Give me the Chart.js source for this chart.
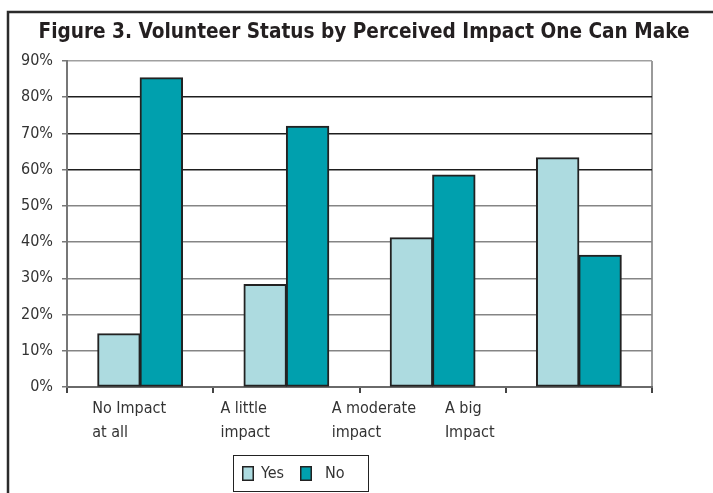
<!DOCTYPE html>
<html>
<head>
<meta charset="utf-8">
<script src="https://cdn.jsdelivr.net/npm/chart.js@4/dist/chart.umd.min.js"></script>
<style>
  html, body { margin: 0; padding: 0; background: #fff; }
  #wrap { position: relative; width: 713px; height: 493px; }
  canvas { display: block; }
</style>
</head>
<body>
<div id="wrap"><canvas id="c" width="713" height="493"></canvas></div>
<script>
// Share of respondents who volunteer (Yes) or not (No), by how much impact they think one person can make
const chartTitle = 'Figure 3. Volunteer Status by Perceived Impact One Can Make';
const categories = [
  ['No Impact', 'at all'],
  ['A little', 'impact'],
  ['A moderate', 'impact'],
  ['A big', 'Impact']
];
const seriesNames = ['Yes', 'No'];
const yesValues = [14.7, 28.3, 41.2, 63.3];
const noValues = [85.4, 72.0, 58.5, 36.4];
const yTicks = [0, 10, 20, 30, 40, 50, 60, 70, 80, 90];

const FONT = '"DejaVu Sans Condensed", "DejaVu Sans", sans-serif';
const TEXT = '#333333';

// Horizontal offset of each category label's left edge from its category centre
const labelShift = [-48, -66, -101, -134];

const framePlugin = {
  id: 'frame',
  beforeDraw(chart) {
    const ctx = chart.ctx;
    ctx.save();
    ctx.fillStyle = '#fff';
    ctx.fillRect(0, 0, chart.width, chart.height);
    ctx.strokeStyle = '#2b2b2b';
    ctx.lineWidth = 2.5;
    ctx.beginPath();
    ctx.moveTo(8, chart.height);
    ctx.lineTo(8, 12);
    ctx.lineTo(chart.width, 12);
    ctx.stroke();
    // title
    ctx.fillStyle = '#231f20';
    ctx.font = 'bold 20.6px ' + FONT;
    ctx.textAlign = 'center';
    ctx.textBaseline = 'middle';
    ctx.fillText(chartTitle, 364, 33);
    ctx.restore();
  }
};

const labelsPlugin = {
  id: 'catLabels',
  afterDraw(chart) {
    const ctx = chart.ctx;
    const x = chart.scales.x;
    ctx.save();
    ctx.fillStyle = TEXT;
    ctx.font = '16px ' + FONT;
    ctx.textAlign = 'left';
    ctx.textBaseline = 'middle';
    categories.forEach((lines, i) => {
      const px = x.getPixelForValue(i) + labelShift[i];
      lines.forEach((t, j) => ctx.fillText(t, px, x.bottom - 95 + 11 + j * 24));
    });
    ctx.restore();
  }
};

const legendPlugin = {
  id: 'boxLegend',
  afterDraw(chart) {
    const ctx = chart.ctx;
    ctx.save();
    ctx.strokeStyle = '#222';
    ctx.lineWidth = 1;
    ctx.strokeRect(233.5, 455.5, 135, 36);
    ctx.font = '16px ' + FONT;
    ctx.textBaseline = 'middle';
    ctx.textAlign = 'left';
    const items = [{ x: 242, tx: 261 }, { x: 300, tx: 325 }];
    chart.data.datasets.forEach((ds, i) => {
      const it = items[i];
      ctx.fillStyle = ds.backgroundColor;
      ctx.fillRect(it.x, 466, 12, 15);
      ctx.strokeStyle = '#222';
      ctx.lineWidth = 1.5;
      ctx.strokeRect(it.x + 0.75, 466.75, 10.5, 13.5);
      ctx.fillStyle = TEXT;
      ctx.fillText(ds.label, it.tx, 474);
    });
    ctx.restore();
  }
};

new Chart(document.getElementById('c'), {
  type: 'bar',
  data: {
    labels: categories,
    datasets: [
      { label: seriesNames[0], data: yesValues, backgroundColor: '#addbe0', borderColor: '#222', borderWidth: 2, borderSkipped: false, inflateAmount: 0.5 },
      { label: seriesNames[1], data: noValues, backgroundColor: '#00a0ae', borderColor: '#222', borderWidth: 2, borderSkipped: false, inflateAmount: 0.5 }
    ]
  },
  options: {
    responsive: false,
    animation: false,
    events: [],
    layout: { padding: { left: 0, right: 61, top: 61, bottom: 0 } },
    datasets: { bar: { categoryPercentage: 0.58, barPercentage: 1.0 } },
    plugins: {
      legend: { display: false },
      title: { display: false },
      tooltip: { enabled: false }
    },
    scales: {
      x: {
        afterFit(s) { s.height = 106; },
        ticks: { display: false },
        grid: {
          offset: true,
          color: c => (c.tick ? 'rgba(0,0,0,0)' : '#9a9a9a'),
          lineWidth: 2,
          tickColor: '#444',
          tickLength: 6
        },
        border: { color: '#6a6a6a', width: 2 }
      },
      y: {
        min: 0,
        max: 90,
        afterFit(s) { s.width = 67; },
        afterBuildTicks(s) { s.ticks = yTicks.map(v => ({ value: v })); },
        ticks: {
          callback: v => v + '%',
          color: TEXT,
          font: { family: FONT, size: 16 },
          padding: 9
        },
        grid: {
          color: c => {
            const v = c.tick ? c.tick.value : 0;
            if (v === 90) return '#a0a0a0';
            if (v >= 60) return '#1e1e1e';
            return '#858585';
          },
          lineWidth: 1.5,
          tickColor: '#777',
          tickLength: 5
        },
        border: { color: '#777', width: 2 }
      }
    }
  },
  plugins: [framePlugin, labelsPlugin, legendPlugin]
});
</script>
</body>
</html>
